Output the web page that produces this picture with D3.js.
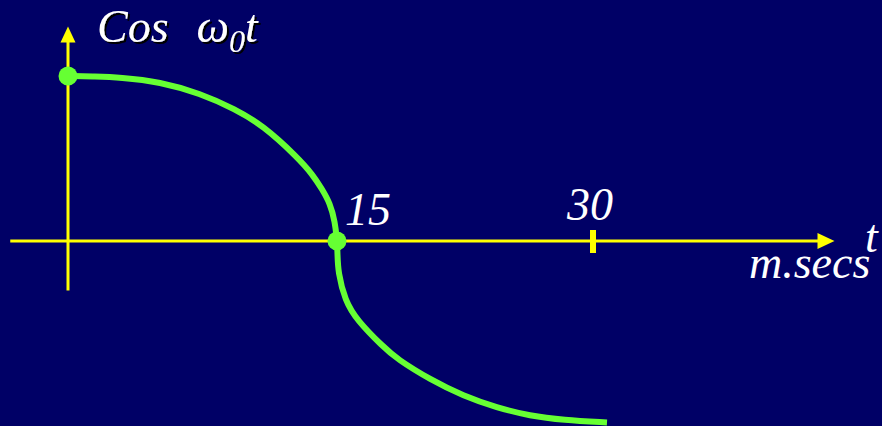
<!DOCTYPE html>
<html><head><meta charset="utf-8">
<script src="https://cdn.jsdelivr.net/npm/d3@7"></script>
</head><body style="margin:0;background:#000066">
<svg id="c" width="882" height="426"></svg>
<script>
// ---- data (t in ms, value of cos) ----
// upper arc: from t=0 down to the zero crossing
const upperT = [0, 1.54, 2.97, 5.26, 7.54, 9.54, 11.14, 13.09, 14.0, 14.51, 14.97, 15.26, 15.37];
const upperV = [1.00, 0.997, 0.992, 0.965, 0.895, 0.80, 0.70, 0.51, 0.40, 0.315, 0.23, 0.115, 0];
// lower arc: from the zero crossing to the end
const lowerT = [15.37, 15.40, 15.43, 15.83, 16.51, 18.0, 18.8, 20.7, 22.6, 24.5, 26.4, 28.3, 30.8];
const lowerV = [0, -0.073, -0.19, -0.36, -0.48, -0.64, -0.715, -0.84, -0.94, -1.01, -1.06, -1.085, -1.10];
const markT = [0, 15.37];
const markV = [1.0, 0];
const tickValues = [30];
const tickLabels = ["30"];
const zeroLabel = "15";
const xAxisExtent = [-3.3, 43.8];
const yAxisExtent = [-0.3, 1.3];

const svg = d3.select("#c");
const x = d3.scaleLinear().domain([0, 30]).range([68, 593]);
const y = d3.scaleLinear().domain([0, 1]).range([241, 76]);

const YEL = "#ffff00", GRN = "#66ff33";
const FONT = '"Liberation Serif"';

const defs = svg.append("defs");
const f = defs.append("filter").attr("id","sh").attr("x","-10%").attr("y","-10%").attr("width","130%").attr("height","140%");
f.append("feDropShadow").attr("dx",2).attr("dy",2).attr("stdDeviation",0.6).attr("flood-color","#000000").attr("flood-opacity",1);

// horizontal axis
svg.append("line").attr("x1", x(xAxisExtent[0])).attr("x2", x(xAxisExtent[1]) - 15)
  .attr("y1", y(0)).attr("y2", y(0)).attr("stroke", YEL).attr("stroke-width", 3);
const hx = x(xAxisExtent[1]), hy = y(0);
svg.append("path").attr("d", `M${hx},${hy} L${hx-17},${hy-8} L${hx-17},${hy+8} Z`).attr("fill", YEL);

// vertical axis
svg.append("line").attr("x1", x(0)).attr("x2", x(0))
  .attr("y1", y(yAxisExtent[0])).attr("y2", y(yAxisExtent[1]) + 14)
  .attr("stroke", YEL).attr("stroke-width", 3);
const vx = x(0), vy = y(yAxisExtent[1]);
svg.append("path").attr("d", `M${vx},${vy} L${vx-7.5},${vy+16} L${vx+7.5},${vy+16} Z`).attr("fill", YEL);

// tick marks
svg.selectAll(".tk").data(tickValues).enter().append("line")
  .attr("x1", d => x(d)).attr("x2", d => x(d))
  .attr("y1", y(0) - 11).attr("y2", y(0) + 12)
  .attr("stroke", YEL).attr("stroke-width", 6);

// curve (two arcs)
const line = d3.line().x(d => x(d[0])).y(d => y(d[1])).curve(d3.curveBasis);
[[upperT, upperV], [lowerT, lowerV]].forEach(([T, V]) => {
  svg.append("path").datum(T.map((t, i) => [t, V[i]])).attr("d", line)
    .attr("fill", "none").attr("stroke", GRN).attr("stroke-width", 6);
});

// marker points
svg.selectAll(".mk").data(markT.map((t, i) => [t, markV[i]])).enter().append("circle")
  .attr("cx", d => x(d[0])).attr("cy", d => y(d[1])).attr("r", 9.5).attr("fill", GRN);

function txt(xp, yp, s, anchor) {
  return svg.append("text").attr("x", xp).attr("y", yp)
    .attr("text-anchor", anchor || "start").attr("font-size", 46)
    .attr("font-style", "italic").style("font-family", FONT)
    .attr("fill", "#fff").text(s);
}

// tick labels
tickValues.forEach((d, i) => txt(x(d) - 3, y(0) - 21, tickLabels[i], "middle"));
txt(x(markT[1]) + 8, y(0) - 16, zeroLabel);

// axis titles
txt(865, 252, "t");
txt(749, 278, "m.secs");

// title with a dark drop shadow
const title = svg.append("text").attr("x", 97).attr("y", 42)
  .attr("font-size", 46).attr("font-style", "italic").style("font-family", FONT)
  .attr("fill", "#fff").attr("filter", "url(#sh)");
title.append("tspan").text("Cos");
title.append("tspan").attr("dx", 28).text("ω");
title.append("tspan").attr("dy", 10).attr("font-size", 32).text("0");
title.append("tspan").attr("dy", -10).text("t");
</script>
</body></html>
